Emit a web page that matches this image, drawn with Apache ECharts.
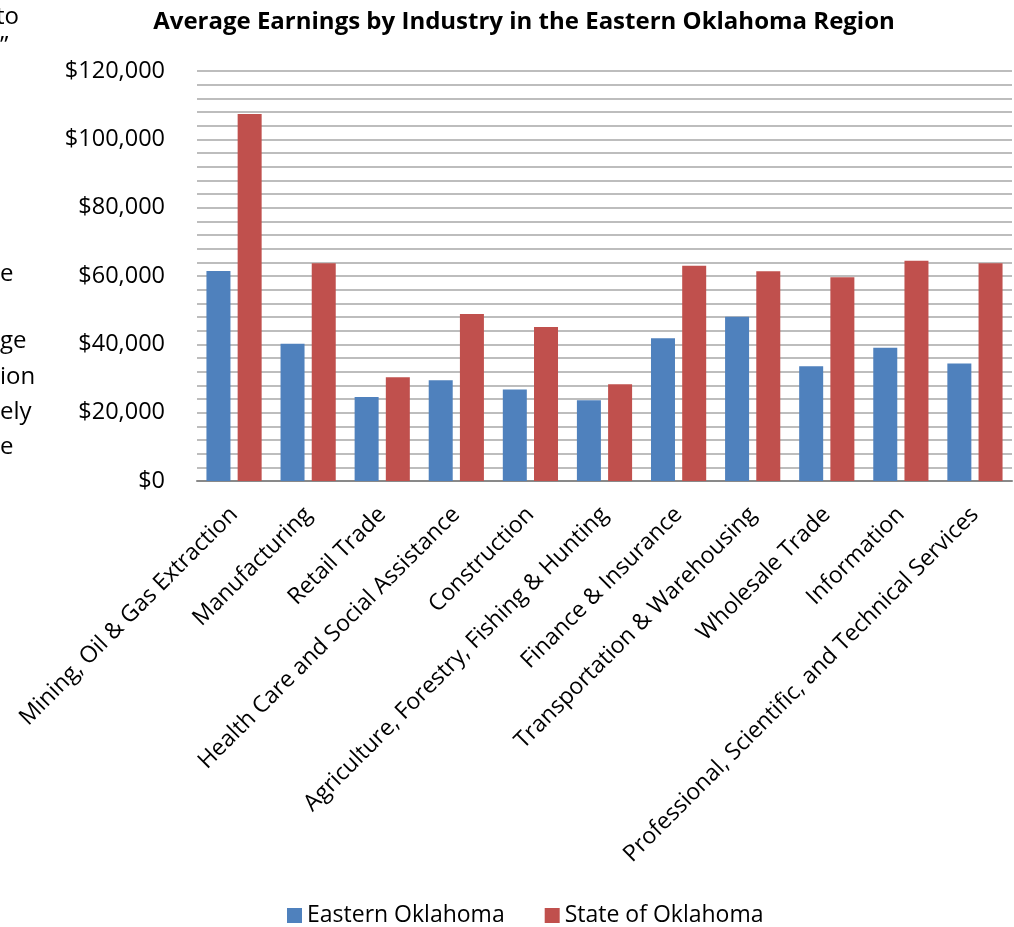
<!DOCTYPE html>
<html>
<head>
<meta charset="utf-8">
<script src="https://cdn.jsdelivr.net/npm/echarts@6/dist/echarts.min.js"></script>
<style>
html,body{margin:0;padding:0;background:#fff;}
#chart{width:1014px;height:927px;}
</style>
</head>
<body>
<div id="chart"></div>
<script>
const categories = [
  "Mining, Oil & Gas Extraction",
  "Manufacturing",
  "Retail Trade",
  "Health Care and Social Assistance",
  "Construction",
  "Agriculture, Forestry, Fishing & Hunting",
  "Finance & Insurance",
  "Transportation & Warehousing",
  "Wholesale Trade",
  "Information",
  "Professional, Scientific, and Technical Services"
];
const easternOklahoma = [61500, 40200, 24600, 29500, 26800, 23600, 41800, 48100, 33600, 39000, 34400];
const stateOfOklahoma = [107400, 63700, 30400, 48900, 45100, 28300, 63000, 61400, 59600, 64500, 63700];
const seriesNames = ["Eastern Oklahoma", "State of Oklahoma"];
const titleText = "Average Earnings by Industry in the Eastern Oklahoma Region";
const sideFragments = [
  {text: "to", x: -4, y: 22},
  {text: "\u201d", x: 0, y: 51},
  {text: "e", x: 0, y: 279},
  {text: "ge", x: 0, y: 346},
  {text: "ion", x: 0, y: 382},
  {text: "ely", x: 0, y: 417},
  {text: "e", x: 0, y: 452}
];

const FONT = "Open Sans";
const chart = echarts.init(document.getElementById('chart'));

const gridTop = 71, gridBottom = 446, gridLeft = 197, gridRight = 2;

chart.setOption({
  animation: false,
  backgroundColor: '#ffffff',
  textStyle: {fontFamily: FONT},
  title: {
    text: titleText,
    left: 519, top: 5, textAlign: 'center',
    textStyle: {fontFamily: FONT, fontSize: 24, fontWeight: 'bold', color: '#000'}
  },
  legend: {
    data: seriesNames,
    top: 899, left: 282,
    itemWidth: 15, itemHeight: 15, itemGap: 40, itemTextGap: 6,
    icon: 'rect',
    textStyle: {fontFamily: FONT, fontSize: 23, color: '#000'}
  },
  graphic: sideFragments.map(f => ({
    type: 'text', left: f.x, top: f.y - 17,
    style: {text: f.text, font: '24px "Open Sans"', fill: '#000'}
  })),
  grid: {left: gridLeft, right: gridRight, top: gridTop, bottom: gridBottom, containLabel: false},
  xAxis: {
    type: 'category',
    data: categories,
    axisLine: {lineStyle: {color: '#898989', width: 2}},
    axisTick: {show: false},
    axisLabel: {
      rotate: 45, interval: 0, margin: 30,
      fontFamily: FONT, fontSize: 23, color: '#000'
    }
  },
  yAxis: [{
    type: 'value',
    min: 0, max: 120000, interval: 20000,
    axisLine: {show: false},
    axisTick: {show: false},
    axisLabel: {
      margin: 32, fontFamily: FONT, fontSize: 23.5, color: '#000',
      formatter: v => '$' + v.toLocaleString('en-US')
    },
    splitLine: {lineStyle: {color: '#8a8a8a', width: 2}}
  }, {
    type: 'value',
    min: 0, max: 120000, interval: 4000,
    axisLine: {show: false}, axisTick: {show: false}, axisLabel: {show: false},
    splitLine: {lineStyle: {color: '#bdbdbd', width: 2}},
    z: 0
  }],
  series: [{
    name: seriesNames[0], type: 'bar', data: easternOklahoma,
    barWidth: 24, barGap: '30%',
    itemStyle: {color: '#4f81bd'}, z: 3
  }, {
    name: seriesNames[1], type: 'bar', data: stateOfOklahoma,
    barWidth: 24, barGap: '30%',
    itemStyle: {color: '#c0504d'}, z: 3
  }]
});
</script>
</body>
</html>
